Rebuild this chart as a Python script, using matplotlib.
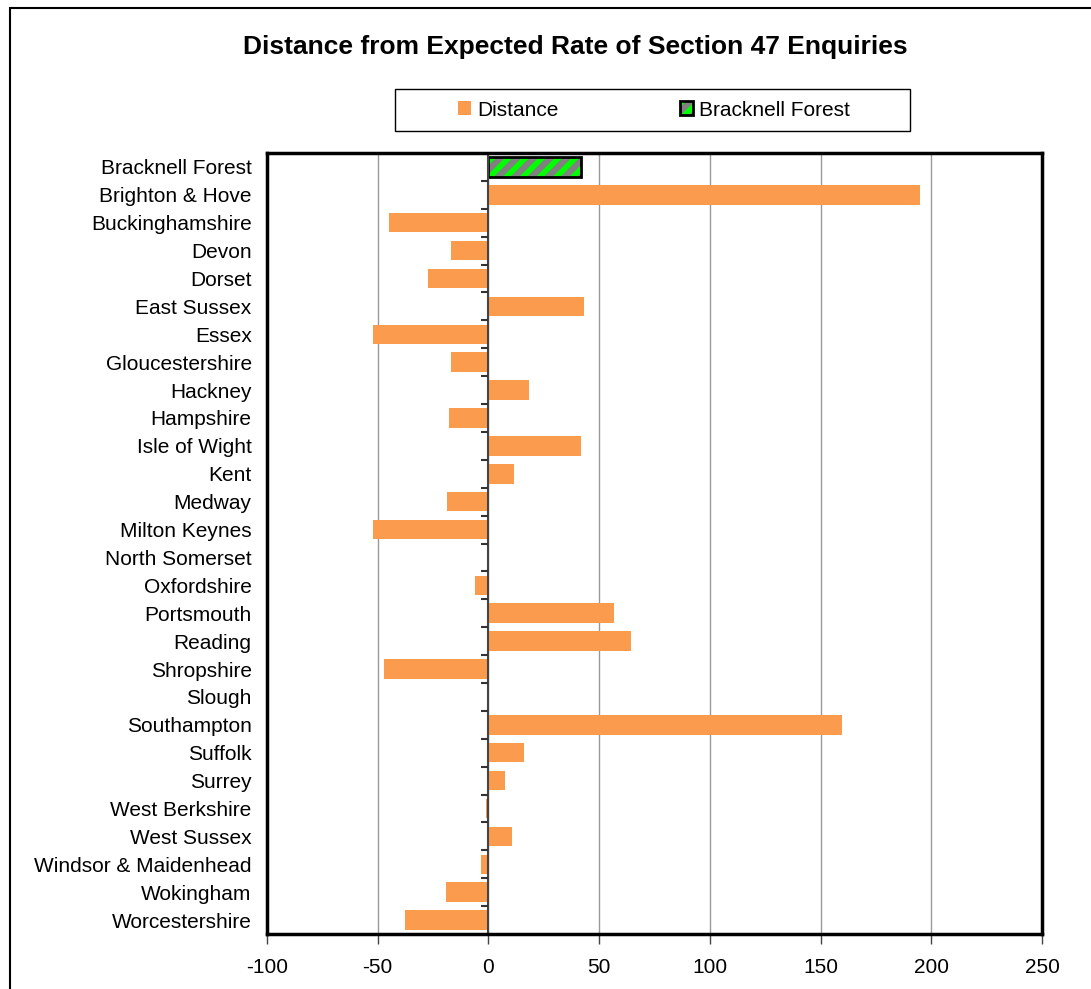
import matplotlib
matplotlib.use("Agg")
import matplotlib.pyplot as plt
from matplotlib.patches import Patch, Rectangle
from matplotlib.legend_handler import HandlerTuple

plt.rcParams['font.family'] = ['Liberation Sans', 'DejaVu Sans']
plt.rcParams['hatch.linewidth'] = 4.0

# data
areas = ["Bracknell Forest", "Brighton & Hove", "Buckinghamshire", "Devon",
         "Dorset", "East Sussex", "Essex", "Gloucestershire", "Hackney",
         "Hampshire", "Isle of Wight", "Kent", "Medway", "Milton Keynes",
         "North Somerset", "Oxfordshire", "Portsmouth", "Reading",
         "Shropshire", "Slough", "Southampton", "Suffolk", "Surrey",
         "West Berkshire", "West Sussex", "Windsor & Maidenhead",
         "Wokingham", "Worcestershire"]
distance = [42, 195, -45, -17, -27.5, 43, -52, -17, 18.5, -18, 42, 11.5,
            -18.5, -52, 0, -6, 56.5, 64.5, -47, 0, 159.5, 16, 7.5, -1, 10.5,
            -3.5, -19, -37.5]
highlight = "Bracknell Forest"
xticks = [-100, -50, 0, 50, 100, 150, 200, 250]

orange = "#FB9B4E"
grey = "#808080"
green = "#00FF00"

fig = plt.figure(figsize=(10.91, 9.89), dpi=100)
ax = fig.add_axes([267 / 1091, 1 - 934 / 989, 775 / 1091, 781 / 989])

ypos = list(range(len(areas)))
hl = areas.index(highlight)
others_y = [y for y in ypos if y != hl]
others_v = [distance[y] for y in others_y]

ax.barh(others_y, others_v, height=0.7, color=orange, zorder=3)
# highlighted bar: grey fill, green stripes, black outline
ax.barh([hl], [distance[hl]], height=0.7, color=grey, edgecolor=green,
        hatch='//', linewidth=0, zorder=3)
ax.barh([hl], [distance[hl]], height=0.7, facecolor='none',
        edgecolor='black', linewidth=2, zorder=4)

ax.set_xlim(-100, 250)
ax.set_ylim(len(areas) - 0.5, -0.5)
ax.set_xticks(xticks)
ax.set_xticklabels([str(t) for t in xticks], fontsize=15)
ax.set_yticks(ypos)
ax.set_yticklabels(areas, fontsize=15)
ax.tick_params(axis='y', length=0, pad=11)
ax.tick_params(axis='x', length=7, width=1, direction='out', pad=10,
               color='#444444')

ax.grid(axis='x', color='#999999', linewidth=1, zorder=0)
ax.axvline(0, color='#444444', linewidth=1.5, zorder=5)
# category tick marks on the zero axis
ax.hlines([y + 0.5 for y in ypos[:-1]], -3.2, 0, color='#333333',
          linewidth=1.5, zorder=5)

for s in ax.spines.values():
    s.set_linewidth(2.5)
    s.set_color('black')
    s.set_zorder(6)

fig.text(575 / 1091, 1 - 47 / 989,
         "Distance from Expected Rate of Section 47 Enquiries",
         ha='center', va='center', fontsize=19, fontweight='bold')

h1 = Patch(facecolor=orange, edgecolor='none')
h2a = Patch(facecolor=grey, edgecolor=green, hatch='//', linewidth=0)
h2b = Patch(facecolor='none', edgecolor='black', linewidth=2)
leg = fig.legend([h1, (h2a, h2b)], ["Distance", "Bracknell Forest"],
                 handler_map={tuple: HandlerTuple(ndivide=1, pad=0)},
                 loc='center', bbox_to_anchor=(654 / 1091, 1 - 110 / 989),
                 ncol=2, fontsize=15, frameon=False,
                 handlelength=0.65, handleheight=0.65, handletextpad=0.3,
                 columnspacing=5.8, borderpad=0, borderaxespad=0)

# legend box
fig.patches.append(Rectangle((395 / 1091, 1 - 131 / 989), 515 / 1091,
                             42 / 989, transform=fig.transFigure,
                             fill=False, edgecolor='black', linewidth=1))
# outer chart border
fig.patches.append(Rectangle((10 / 1091, -0.1), 1.2, 1 - 8 / 989 + 0.1,
                             transform=fig.transFigure, fill=False,
                             edgecolor='black', linewidth=1.5))

fig.savefig("out.png", dpi=100)
